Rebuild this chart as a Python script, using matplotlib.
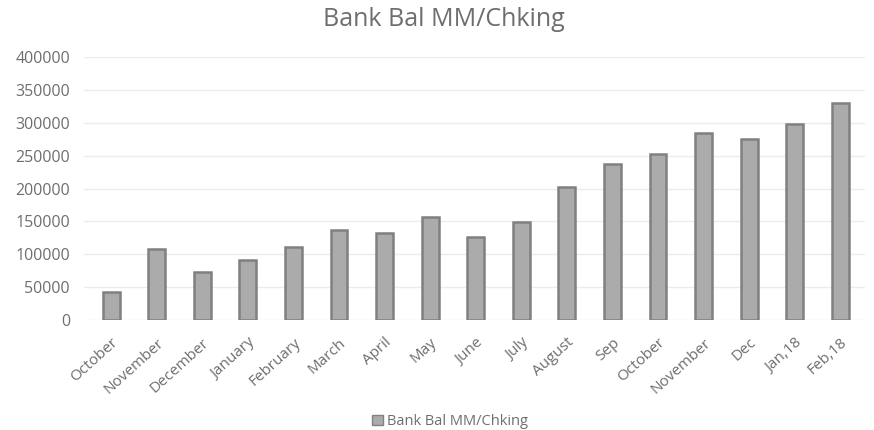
import matplotlib
matplotlib.use("Agg")
import matplotlib.pyplot as plt
from matplotlib.patches import Patch

categories = ["October", "November", "December", "January", "February", "March",
              "April", "May", "June", "July", "August", "Sep", "October",
              "November", "Dec", "Jan,18", "Feb,18"]
values = [42000, 107500, 73000, 91000, 110500, 137000, 132000, 156000,
          126000, 149000, 202000, 237000, 252500, 285000, 276000, 299000, 330500]
series_name = "Bank Bal MM/Chking"
yticks = [0, 50000, 100000, 150000, 200000, 250000, 300000, 350000, 400000]

plt.rcParams['font.family'] = ['Open Sans', 'DejaVu Sans']
text_color = "#6e6e6e"
fill = "#ababab"
edge = "#808080"

fig = plt.figure(figsize=(8.74, 4.30), dpi=100)
ax = fig.add_axes([0.096, 0.256, 0.894, 0.611])

x = range(len(categories))
ax.bar(x, values, width=0.37, color=fill, edgecolor=edge, linewidth=1.8,
       zorder=3)

ax.set_ylim(0, 400000)
ax.set_xlim(-0.6, len(categories) - 0.45)
ax.set_yticks(yticks)
ax.set_yticklabels([str(v) for v in yticks], color=text_color, fontsize=11.5)
ax.set_xticks(list(x))
ax.set_xticklabels(categories, rotation=42, ha="right", rotation_mode="anchor",
                   color=text_color, fontsize=11)
ax.tick_params(axis="y", length=0, pad=10)
ax.tick_params(axis="x", length=0, pad=11)
for s in ax.spines.values():
    s.set_visible(False)
ax.grid(axis="y", color="#ececec", linewidth=1.0, zorder=0)

fig.text(0.508, 0.955, "Bank Bal MM/Chking", ha="center", va="center",
         fontsize=18, color=text_color)

handle = Patch(facecolor=fill, edgecolor=edge, linewidth=1.0)
fig.legend([handle], [series_name], loc="center", bbox_to_anchor=(0.515, 0.02),
           frameon=False, fontsize=10.5, labelcolor=text_color, handlelength=0.7,
           handleheight=0.7, handletextpad=0.3)

fig.savefig("out.png", dpi=100)
